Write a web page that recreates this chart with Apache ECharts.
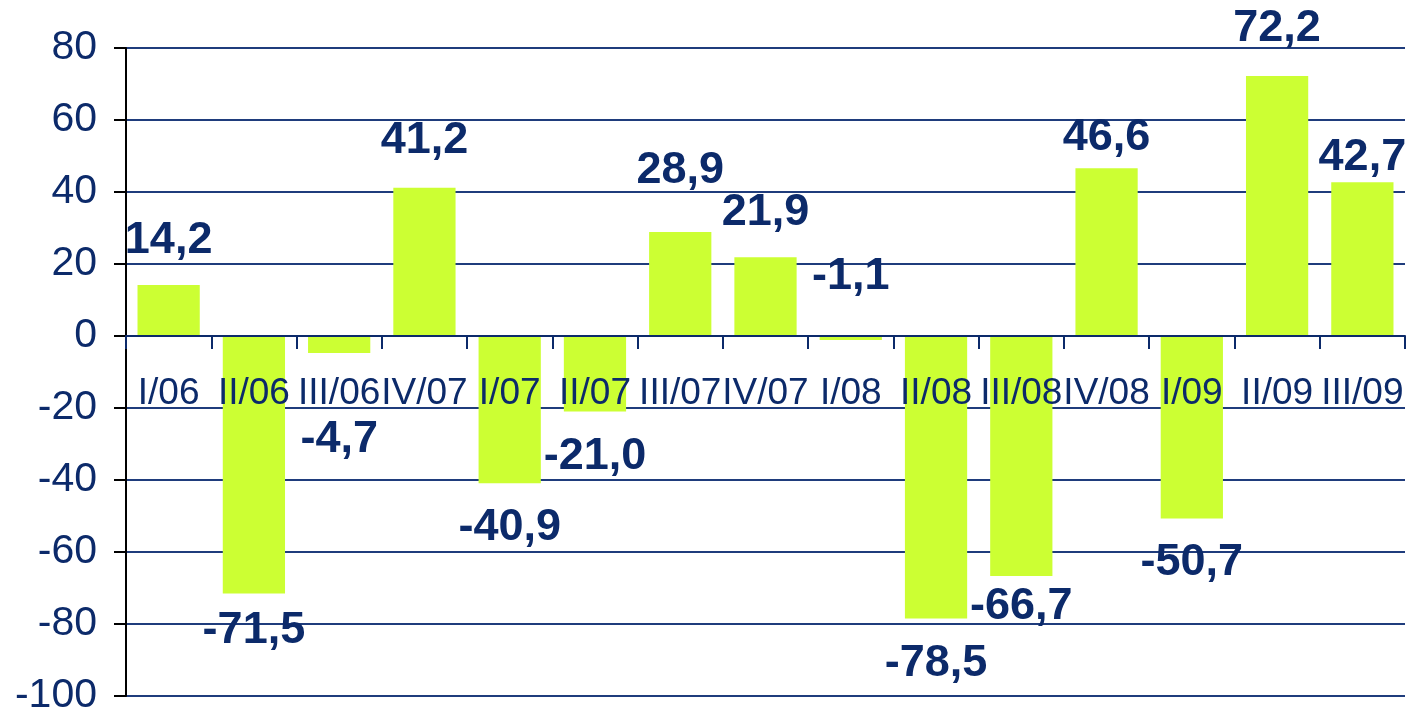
<!DOCTYPE html>
<html>
<head>
<meta charset="utf-8">
<script src="https://cdn.jsdelivr.net/npm/echarts@6/dist/echarts.min.js"></script>
<style>
  html, body { margin: 0; padding: 0; background: #fff; }
  #chart { width: 1412px; height: 715px; }
</style>
</head>
<body>
<div id="chart"></div>
<script>
// quarters and values (comma decimal in labels)
var quarters = ['I/06', 'II/06', 'III/06', 'IV/07', 'I/07', 'II/07', 'III/07', 'IV/07',
                'I/08', 'II/08', 'III/08', 'IV/08', 'I/09', 'II/09', 'III/09'];
var values = [14.2, -71.5, -4.7, 41.2, -40.9, -21.0, 28.9, 21.9,
              -1.1, -78.5, -66.7, 46.6, -50.7, 72.2, 42.7];
var yTicks = { min: -100, max: 80, step: 20 };

var navy = '#0C2A6A';

// plot box in px; the category axis sits on the zero line
var plotTop = 48, plotBottom = 19, plotH = 715 - plotTop - plotBottom;
var zeroLift = plotH * (0 - yTicks.min) / (yTicks.max - yTicks.min);

// small hand tweaks for labels that sit off the usual spot
var nudge = { 1: -7, 2: 42, 3: -3, 6: -17, 8: -15, 10: -14, 11: 14, 13: -3, 14: 20 };

var barData = values.map(function (v, i) {
    var pos = (v >= 0 || i === 8) ? 'top' : 'bottom';
    return {
        value: v,
        label: {
            position: pos,
            offset: [0, nudge[i] || 0]
        }
    };
});

var chart = echarts.init(document.getElementById('chart'));
chart.setOption({
    animation: false,
    grid: { left: 126, right: 7, top: plotTop, bottom: plotBottom, outerBoundsMode: 'none', containLabel: false },
    xAxis: {
        type: 'category',
        data: quarters,
        position: 'bottom',
        offset: -zeroLift,
        z: 10,
        axisLine: { onZero: false, lineStyle: { color: navy, width: 2 } },
        axisTick: { show: true, length: 13, lineStyle: { color: navy, width: 2 } },
        axisLabel: {
            interval: 0,
            margin: 39,
            color: navy,
            fontFamily: 'Liberation Sans, Arial, sans-serif',
            fontSize: 37
        },
        splitLine: { show: false }
    },
    yAxis: {
        type: 'value',
        min: yTicks.min,
        max: yTicks.max,
        interval: yTicks.step,
        axisLine: { show: true, lineStyle: { color: '#000', width: 2 } },
        axisTick: { show: true, length: 12, lineStyle: { color: '#000', width: 2 } },
        axisLabel: {
            margin: 29,
            color: navy,
            fontFamily: 'Liberation Sans, Arial, sans-serif',
            fontSize: 41
        },
        splitLine: { lineStyle: { color: '#1F3C7C', width: 2 } }
    },
    series: [{
        type: 'bar',
        data: barData,
        barCategoryGap: '27%',
        itemStyle: { color: '#CCFF33' },
        label: {
            show: true,
            distance: 22,
            color: navy,
            fontFamily: 'Liberation Sans, Arial, sans-serif',
            fontWeight: 'bold',
            fontSize: 45,
            formatter: function (p) {
                return p.value.toFixed(1).replace('.', ',');
            }
        }
    }]
});
</script>
</body>
</html>
